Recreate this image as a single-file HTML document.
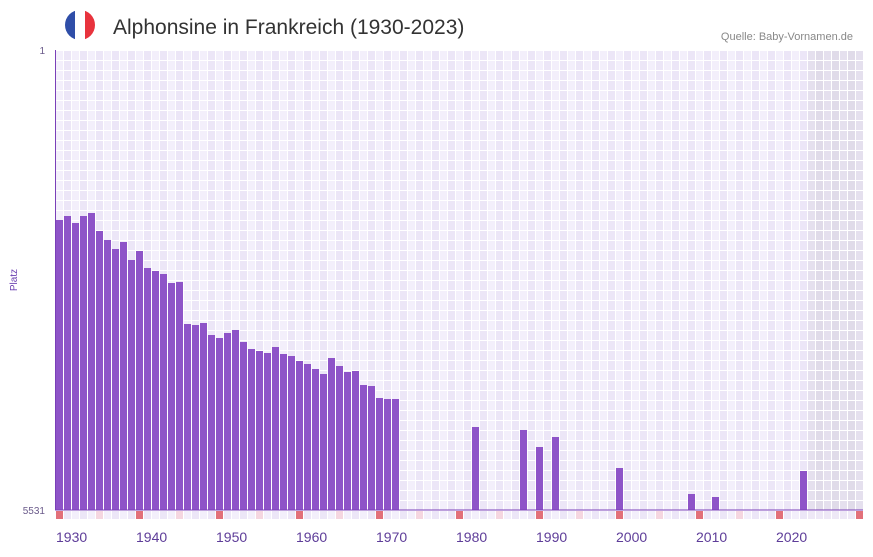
<!DOCTYPE html>
<html><head><meta charset="utf-8"><style>
body{margin:0;background:#fff;width:873px;height:552px;overflow:hidden;font-family:"Liberation Sans",sans-serif}
</style></head><body>
<svg id="s" width="873" height="552" xmlns="http://www.w3.org/2000/svg">
<defs><clipPath id="c"><circle cx="80" cy="25" r="15"/></clipPath></defs>
<g clip-path="url(#c)"><rect x="65" y="10" width="10" height="30" fill="#2f4ea8"/><rect x="75" y="10" width="10" height="30" fill="#fff"/><rect x="85" y="10" width="10" height="30" fill="#e8333d"/></g>
<text x="113" y="34" font-size="21" fill="#333">Alphonsine in Frankreich (1930-2023)</text>
<text x="853" y="40" font-size="11" fill="#888" text-anchor="end">Quelle: Baby-Vornamen.de</text>
<text x="45" y="54" font-size="10" fill="#6a5a8a" text-anchor="end">1</text>
<text x="45" y="514" font-size="10" fill="#6a5a8a" text-anchor="end">5531</text>
<text x="17" y="280" font-size="10" fill="#6a3fb0" text-anchor="middle" transform="rotate(-90 17 280)">Platz</text>
<g id="g"></g>
</svg>
<script>
var g=document.getElementById('g'),h='';
for(var i=0;i<101;i++){var x=55+8*i;
 var fill=i%2?'#ece6f7':'#f3effb'; if(i>=94) fill=i%2?'#e0dbe9':'#e5e0ee';
 for(var r=0;r<46;r++){h+='<rect x="'+(x+1)+'" y="'+(50+r*10+1)+'" width="7" height="9" fill="'+fill+'"/>';}
 var y=1930+i, mf=i%2?'#ece6f7':'#f3effb';
 if(y%10==0) mf='#e2707a'; else if(y%10==5) mf='#f5d6e0';
 if(i<94) h+='<rect x="'+(x+1)+'" y="511" width="7" height="8" fill="'+mf+'"/>';
 else h+='<rect x="'+(x+1)+'" y="511" width="7" height="8" fill="'+(y%10==0?'#e2707a':'#eee8f6')+'"/>';
}
var tops={1930:220,1931:216,1932:223,1933:216,1934:213,1935:231,1936:240,1937:249,1938:242,1939:260,1940:251,1941:268,1942:271,1943:274,1944:283,1945:282,1946:324,1947:325,1948:323,1949:335,1950:338,1951:333,1952:330,1953:342,1954:349,1955:351,1956:353,1957:347,1958:354,1959:356,1960:361,1961:364,1962:369,1963:374,1964:358,1965:366,1966:372,1967:371,1968:385,1969:386,1970:398,1971:399,1972:399,1982:427,1988:430,1990:447,1992:437,2000:468,2009:494,2012:497,2023:471};
for(var k in tops){var x=55+8*(k-1930);h+='<rect x="'+(x+1)+'" y="'+tops[k]+'" width="7" height="'+(510-tops[k])+'" fill="#8e54c8"/>';}
h+='<line x1="55" y1="510" x2="863" y2="510" stroke="#7a3fb8" stroke-width="1"/>';
h+='<line x1="55.5" y1="50" x2="55.5" y2="510" stroke="#7a3fb8" stroke-width="1"/>';
for(var d=0;d<10;d++){var x=56+80*d;h+='<text x="'+x+'" y="542" font-size="14" fill="#5e3d99">'+(1930+10*d)+'</text>';}
g.innerHTML=h;
</script>
</body></html>
